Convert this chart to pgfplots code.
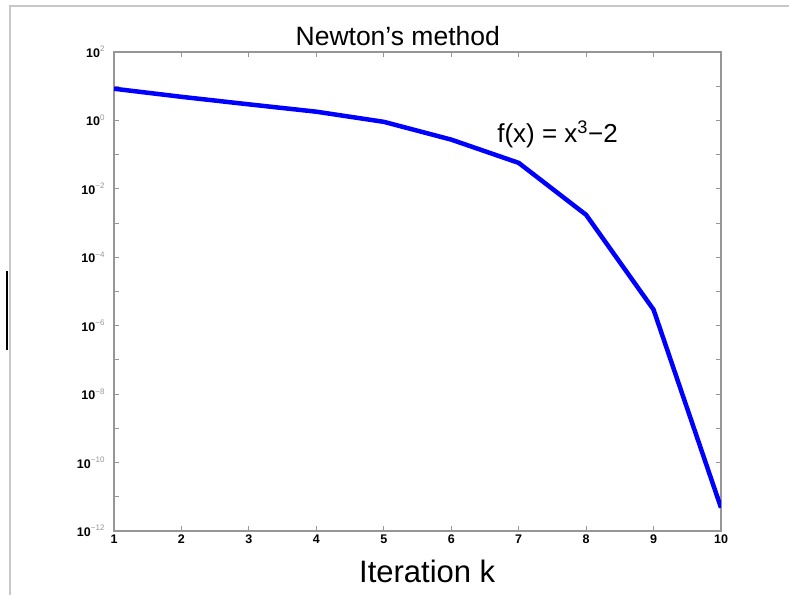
\documentclass[border=0pt]{standalone}
\usepackage{fontspec}
\setmainfont{Liberation Sans}
\usepackage{pgfplots}
\pgfplotsset{compat=1.18}
\definecolor{framegray}{RGB}{200,200,200}
\definecolor{axgray}{RGB}{150,150,150}
\newcommand\tl[1]{\textbf{10}\raisebox{5.5pt}{\fontsize{8}{9}\selectfont\color{axgray}#1}}
\begin{document}
\begin{tikzpicture}
\useasboundingbox (0,0) rectangle (789pt,595pt);
\fill[framegray] (9pt,588pt) rectangle (789pt,590pt);
\fill[framegray] (9pt,0pt) rectangle (11pt,589pt);
\fill[black] (6pt,245pt) rectangle (8pt,324pt);
\begin{axis}[
  at={(114pt,64pt)}, anchor=south west,
  scale only axis, width=607pt, height=479pt,
  ymode=log, ymin=1e-12, ymax=1e2, xmin=1, xmax=10,
  xtick={1,2,3,4,5,6,7,8,9,10},
  xticklabels={1,2,3,4,5,6,7,8,9,10},
  ytick={1e-12,1e-11,1e-10,1e-9,1e-8,1e-7,1e-6,1e-5,1e-4,1e-3,1e-2,1e-1,1e0,1e1,1e2},
  yticklabels={{\tl{−12}},{},{\tl{−10}},{},{\tl{−8}},{},{\tl{−6}},{},{\tl{−4}},{},{\tl{−2}},{},{\tl{0}},{},{\tl{2}}},
  minor ytick={}, minor y tick style={draw=none},
  tick pos=both, tick align=inside,
  major tick length=5pt,
  tick style={axgray, line width=1pt},
  axis line style={draw=axgray, line width=1.5pt},
  xticklabel style={font=\fontsize{12.5}{14}\selectfont\bfseries},
  yticklabel style={font=\fontsize{12.5}{14}\selectfont, xshift=-6pt},
  title={Newton’s method},
  title style={font=\fontsize{26.5}{30}\selectfont, anchor=base, at={(0.4675,1)}, yshift=0pt},
  xlabel={Iteration k},
  xlabel style={font=\fontsize{31}{34}\selectfont, anchor=base, at={(0.516,0)}, yshift=-51pt},
]
\addplot[blue, line width=4.5pt, no marks] coordinates {
(1,8.45) (2,4.9) (3,2.95) (4,1.8) (5,0.91) (6,0.275) (7,0.0575) (8,1.74e-3) (9,2.95e-6) (10,4.8e-12)
};
\node[anchor=base west, inner sep=0pt, font=\fontsize{26}{30}\selectfont] at (axis cs:6.68,0.224) {f(x) = x\textsuperscript{3}−2};
\end{axis}
\end{tikzpicture}
\end{document}
